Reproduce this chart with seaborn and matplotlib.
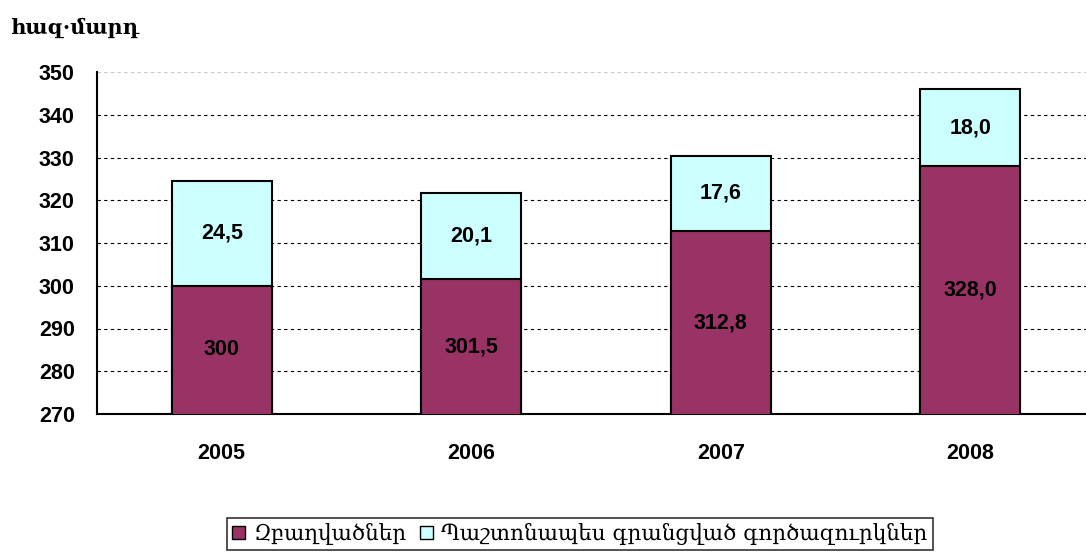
import matplotlib
matplotlib.use("Agg")
import matplotlib.pyplot as plt
import pandas as pd
import seaborn as sns
from matplotlib.patches import Patch

years = ["2005", "2006", "2007", "2008"]
employed = [300.0, 301.5, 312.8, 328.0]
unemployed = [24.5, 20.1, 17.6, 18.0]
employed_labels = ["300", "301,5", "312,8", "328,0"]
unemployed_labels = ["24,5", "20,1", "17,6", "18,0"]

unit_label = "հազ·մարդ"
series_names = ["Զբաղվածներ", "Պաշտոնապես գրանցված գործազուրկներ"]

MAROON = "#993366"
CYAN = "#CCFFFF"
Y_MIN, Y_MAX = 270, 350
NUM_SIZE = 15.5

sns.set_style("white")
plt.rcParams["font.family"] = ["Liberation Sans", "DejaVu Sans"]
plt.rcParams["text.color"] = "black"
plt.rcParams["xtick.color"] = "black"
plt.rcParams["ytick.color"] = "black"
ARM_FONT = ["DejaVu Serif", "DejaVu Sans"]

df = pd.DataFrame({"year": years, "employed": employed, "unemployed": unemployed})
df["total"] = df["employed"] + df["unemployed"]

fig = plt.figure(figsize=(10.86, 5.56), dpi=100)
ax = fig.add_axes([97 / 1086, 142 / 556, 998 / 1086, 342 / 556])

sns.barplot(data=df, x="year", y="total", color=CYAN, width=0.4,
            edgecolor="black", linewidth=1.5, saturation=1, ax=ax, zorder=3)
sns.barplot(data=df, x="year", y="employed", color=MAROON, width=0.4,
            edgecolor="black", linewidth=1.5, saturation=1, ax=ax, zorder=3)

ax.set_ylim(Y_MIN, Y_MAX)
ax.set_xlim(-0.5, 3.5)
ax.set_yticks(range(Y_MIN, Y_MAX + 1, 10))
ax.set_xlabel("")
ax.set_ylabel("")

ax.grid(axis="y", linestyle=(0, (3, 3)), color="black", linewidth=0.8, zorder=0)
ax.get_ygridlines()[-1].set_color("#c8c8c8")
ax.set_axisbelow(True)

for side in ["top", "right"]:
    ax.spines[side].set_visible(False)
for side in ["left", "bottom"]:
    ax.spines[side].set_color("black")
    ax.spines[side].set_linewidth(1.5)

ax.set_xticks([-0.5, 0.5, 1.5, 2.5, 3.5])
ax.set_xticklabels([])
ax.set_xticks(range(len(years)), minor=True)
ax.set_xticklabels(years, minor=True, fontsize=NUM_SIZE, fontweight="bold")
ax.tick_params(axis="x", which="major", direction="out", length=7, width=1.2)
ax.tick_params(axis="x", which="minor", length=0, pad=21)
ax.tick_params(axis="y", direction="out", length=7, width=1.2, pad=9,
               labelsize=NUM_SIZE)
for t in ax.get_yticklabels():
    t.set_fontweight("bold")

for i in range(len(years)):
    ax.text(i, (Y_MIN + employed[i]) / 2, employed_labels[i], ha="center", va="center",
            fontsize=NUM_SIZE, fontweight="bold", zorder=5)
    ax.text(i, employed[i] + unemployed[i] / 2, unemployed_labels[i], ha="center",
            va="center", fontsize=NUM_SIZE, fontweight="bold", zorder=5)

fig.text(10 / 1086, 1 - 28 / 556, unit_label, ha="left", va="center", fontsize=15,
         fontweight="bold", family=ARM_FONT)

handles = [Patch(facecolor=MAROON, edgecolor="black", linewidth=1),
           Patch(facecolor=CYAN, edgecolor="black", linewidth=1)]
leg = fig.legend(handles, series_names, loc="center", bbox_to_anchor=(580 / 1086, 1 - 534 / 556),
                 ncol=2, frameon=True, fancybox=False, edgecolor="black",
                 handlelength=0.6, handleheight=0.6, handletextpad=0.4, columnspacing=0.6,
                 borderpad=0.25, borderaxespad=0,
                 prop={"family": ARM_FONT, "size": 15.5})
leg.get_frame().set_linewidth(1.2)

fig.savefig("out.png", dpi=100)
